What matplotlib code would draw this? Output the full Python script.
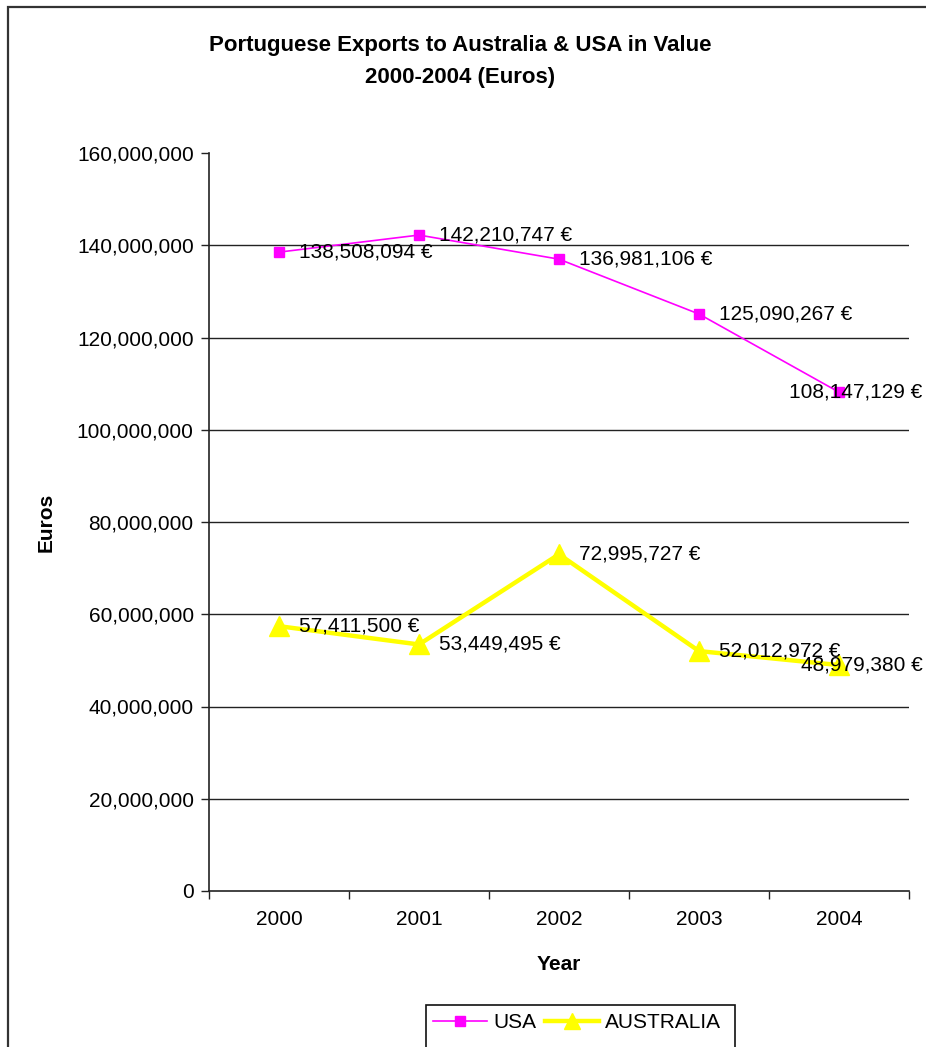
import matplotlib
matplotlib.use("Agg")
import matplotlib.pyplot as plt
from matplotlib.patches import Rectangle
from matplotlib.lines import Line2D
from matplotlib.ticker import FuncFormatter, MultipleLocator

years = ["2000", "2001", "2002", "2003", "2004"]
usa = [138508094, 142210747, 136981106, 125090267, 108147129]
australia = [57411500, 53449495, 72995727, 52012972, 48979380]

plt.rcParams['font.family'] = ['Liberation Sans', 'DejaVu Sans']
FS = 15

W, H = 926, 1047
fig = plt.figure(figsize=(W / 100, H / 100), dpi=100)
fig.patch.set_facecolor("white")

def fx(px):
    return px / W

def fy(py):
    return 1 - py / H

ax = fig.add_axes([fx(209), fy(891), fx(909) - fx(209), fy(153) - fy(891)])
x = list(range(len(years)))

ax.plot(x, usa, color="#FF00FF", lw=1.2, marker="s", ms=7, mec="#FF00FF", mfc="#FF00FF", zorder=3)
ax.plot(x, australia, color="#FFFF00", lw=3.2, marker="^", ms=15, mec="#FFFF00", mfc="#FFFF00", zorder=3)

def label(xi, v):
    if xi == len(years) - 1:
        # last label is pushed left to stay inside the chart, as in the original
        ax.annotate(f"{v:,} €", (xi, v), xytext=(60, 0), textcoords="offset points",
                    ha="right", va="center", fontsize=FS, zorder=5)
    else:
        ax.annotate(f"{v:,} €", (xi, v), xytext=(14.5, 0), textcoords="offset points",
                    ha="left", va="center", fontsize=FS, zorder=5)

for xi, v in zip(x, usa):
    label(xi, v)
for xi, v in zip(x, australia):
    label(xi, v)

ax.set_xlim(-0.5, len(years) - 0.5)
ax.set_ylim(0, 160000000)
ax.yaxis.set_major_locator(MultipleLocator(20000000))
ax.yaxis.set_major_formatter(FuncFormatter(lambda v, p: f"{int(v):,}"))
ax.set_xticks(x)
ax.set_xticklabels(years)
ax.set_xticks([i - 0.5 for i in range(len(years) + 1)], minor=True)
ax.tick_params(axis="x", which="major", length=0, pad=14, labelsize=FS)
ax.tick_params(axis="x", which="minor", length=6, width=1, color="#222222")
ax.tick_params(axis="y", which="major", length=6, width=1, pad=5, labelsize=FS, color="#222222")

for s in ["top", "right"]:
    ax.spines[s].set_visible(False)
for s in ["left", "bottom"]:
    ax.spines[s].set_color("#222222")
    ax.spines[s].set_linewidth(1.2)

for gv in range(20000000, 160000000, 20000000):
    ax.axhline(gv, color="#222222", lw=1.0, zorder=1)

fig.text(fx(460), fy(46), "Portuguese Exports to Australia & USA in Value",
         ha="center", va="center", fontsize=16, fontweight="bold")
fig.text(fx(460), fy(77), "2000-2004 (Euros)",
         ha="center", va="center", fontsize=16, fontweight="bold")
fig.text(fx(46), fy(522), "Euros", rotation=90, ha="center", va="center",
         fontsize=FS, fontweight="bold")
fig.text(fx(559), fy(965), "Year", ha="center", va="center",
         fontsize=FS, fontweight="bold")

# outer chart border
fig.patches.append(Rectangle((fx(8), -0.1), 1.2, fy(7) + 0.1, transform=fig.transFigure,
                             fill=False, edgecolor="#333333", lw=1.6))
# legend box
fig.patches.append(Rectangle((fx(426), -0.1), fx(735) - fx(426), fy(1005) + 0.1,
                             transform=fig.transFigure, fill=False, edgecolor="#111111", lw=1.2))

handles = [
    Line2D([], [], color="#FF00FF", lw=1.2, marker="s", ms=7),
    Line2D([], [], color="#FFFF00", lw=3.2, marker="^", ms=11),
]
fig.legend(handles, ["USA", "AUSTRALIA"], loc="center left",
           bbox_to_anchor=(fx(433), fy(1023)), ncol=2, frameon=False,
           fontsize=FS, handlelength=2.6, handletextpad=0.3, columnspacing=0.4,
           borderpad=0, borderaxespad=0)

fig.savefig("out.png", dpi=100, facecolor="white")
